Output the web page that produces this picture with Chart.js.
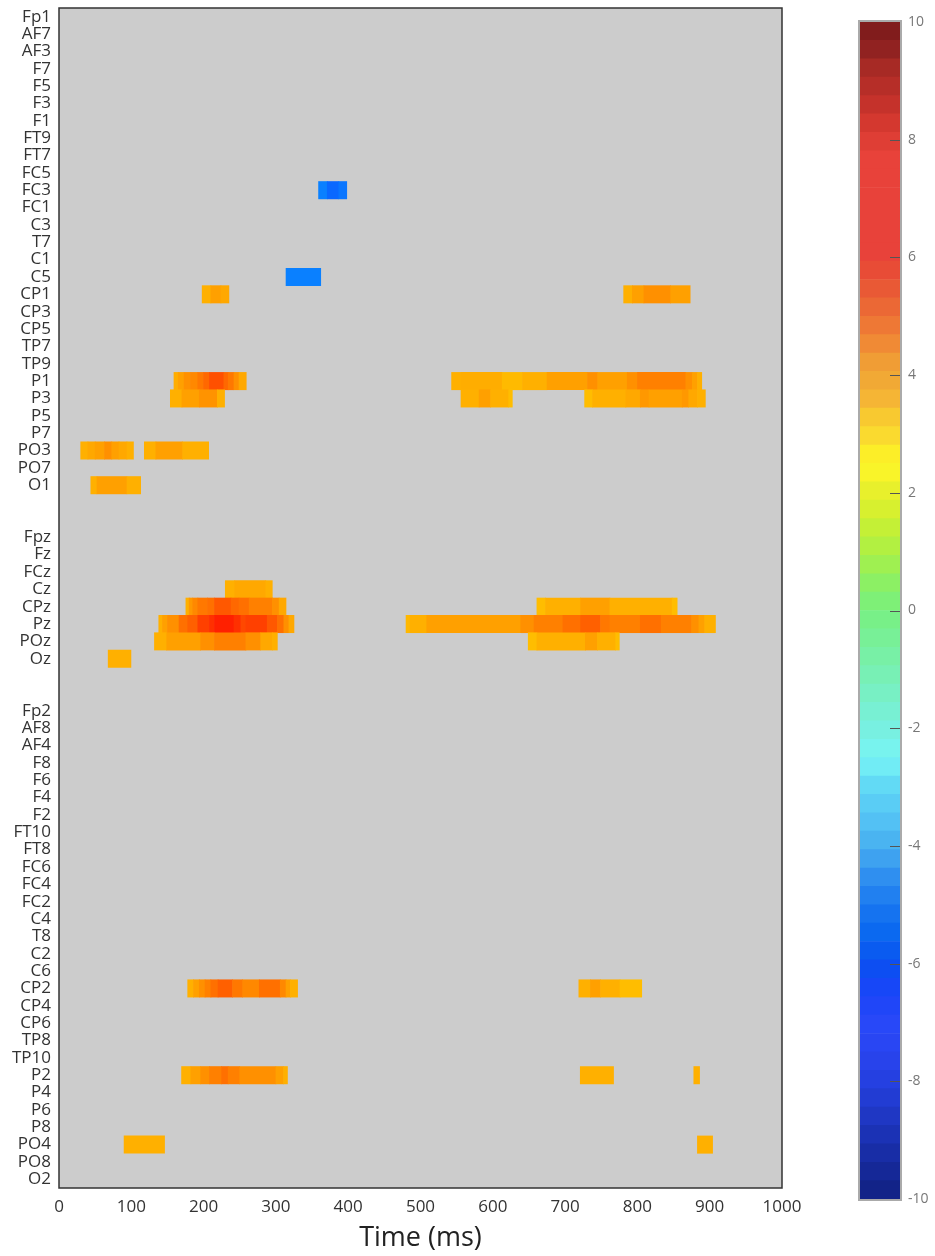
<!DOCTYPE html>
<html>
<head>
<meta charset="utf-8">
<script src="https://cdn.jsdelivr.net/npm/chart.js@4.4.0/dist/chart.umd.min.js"></script>
<style>
  html, body { margin: 0; padding: 0; background: #fff; }
  #wrap { position: relative; width: 935px; height: 1256px; overflow: hidden; }
  #main { position: absolute; left: 0; top: 0; }
  #bar { position: absolute; left: 830px; top: 0; filter: blur(0.6px); }
</style>
</head>
<body>
<div id="wrap">
  <canvas id="main" width="935" height="1256"></canvas>
  <canvas id="bar" width="105" height="1256"></canvas>
</div>
<script>
// Electrode rows, top to bottom (blank rows separate left / midline / right groups)
const leftChannels = ['Fp1','AF7','AF3','F7','F5','F3','F1','FT9','FT7','FC5','FC3','FC1','C3','T7','C1','C5',
  'CP1','CP3','CP5','TP7','TP9','P1','P3','P5','P7','PO3','PO7','O1'];
const midChannels = ['Fpz','Fz','FCz','Cz','CPz','Pz','POz','Oz'];
const rightChannels = ['Fp2','AF8','AF4','F8','F6','F4','F2','FT10','FT8','FC6','FC4','FC2','C4','T8','C2','C6',
  'CP2','CP4','CP6','TP8','TP10','P2','P4','P6','P8','PO4','PO8','O2'];
const rowLabels = [...leftChannels, ' ', '  ', ...midChannels, '   ', '    ', ...rightChannels];

// Time axis ticks (ms)
const timeTicks = [0, 100, 200, 300, 400, 500, 600, 700, 800, 900, 1000];
// Colour scale ticks
const scaleTicks = [10, 8, 6, 4, 2, 0, -2, -4, -6, -8, -10];

// Significant runs: [breakpoints in ms, value of each interval between breakpoints]
const FC3 = [[359, 371, 387, 398], [-5.0, -5.5, -5.2]];
const C5 = [[314, 362], [-5.0]];
const CP1a = [[198, 210, 224, 235], [3.5, 4.0, 3.75]];
const CP1b = [[781, 793, 809, 846, 873], [3.5, 4.0, 4.5, 4.0]];
const P1a = [[159, 165, 173, 182, 192, 200, 208, 228, 234, 242, 249, 259],
  [3.6, 4.0, 4.5, 4.75, 5.25, 5.75, 6.5, 5.75, 5.25, 4.5, 3.75]];
const P1b = [[543, 556, 613, 641, 675, 731, 745, 786, 800, 867, 876, 883, 889],
  [3.5, 3.6, 3.2, 3.5, 4.0, 4.5, 4.0, 4.5, 5.0, 4.5, 4.0, 3.5]];
const P3a = [[154, 170, 194, 219, 229], [3.5, 4.0, 4.4, 3.5]];
const P3b = [[556, 581, 597, 622, 627], [3.5, 4.0, 3.5, 3.1]];
const P3c = [[727, 738, 784, 804, 816, 862, 871, 883, 894], [3.1, 3.5, 3.75, 4.25, 4.0, 4.25, 3.75, 3.5]];
const PO3a = [[30, 40, 50, 63, 73, 83, 94, 103], [3.5, 3.75, 4.0, 4.5, 4.0, 3.75, 3.5]];
const PO3b = [[118, 134, 171, 207], [3.5, 4.0, 3.5]];
const O1 = [[44, 52.5, 94, 113], [3.5, 4.0, 3.5]];
const Cz = [[230, 243, 286, 295], [3.5, 3.75, 3.5]];
const CPza = [[175.5, 180, 185, 192, 205.5, 215, 238, 249, 263, 295, 304.5, 314],
  [3.5, 4.25, 4.75, 5.25, 5.5, 6.25, 5.75, 5.5, 5.0, 4.5, 3.75]];
const CPzb = [[661, 673, 721.5, 762, 848, 855], [3.1, 3.5, 4.0, 3.5, 3.1]];
const Pza = [[138, 143, 150, 166, 178, 192, 208, 215, 242, 251.5, 258.5, 288, 302, 311, 318, 325],
  [3.5, 4.0, 4.5, 5.5, 6.0, 7.0, 7.5, 8.0, 7.5, 6.75, 7.0, 6.25, 5.5, 4.5, 3.75]];
const Pzb = [[480, 485.5, 508.6, 638.6, 657, 697, 721.5, 749, 762, 804, 833, 875, 885, 893, 908],
  [3.25, 3.5, 4.0, 4.5, 5.0, 5.5, 6.0, 5.25, 5.0, 5.5, 5.0, 4.5, 4.0, 3.5]];
const POza = [[132, 149, 196, 215, 258.5, 279, 295, 302], [3.5, 4.0, 4.5, 5.0, 4.5, 3.75, 3.5]];
const POzb = [[649, 661, 728, 744.6, 770, 775], [3.1, 3.5, 4.0, 3.5, 3.1]];
const Oz = [[68, 99.5], [3.5]];
const CP2a = [[178, 186, 194, 202, 210, 220, 240, 254, 277, 306, 314, 320, 330],
  [3.5, 4.0, 4.5, 5.0, 5.5, 6.0, 5.25, 4.75, 5.5, 4.75, 4.0, 3.5]];
const CP2b = [[719, 735, 749, 776, 806], [3.5, 4.0, 3.5, 3.1]];
const P2a = [[169.5, 182.4, 196, 208, 225, 234, 250, 300, 310.6, 316], [3.5, 4.0, 4.5, 5.0, 5.5, 5.0, 4.5, 4.0, 3.5]];
const P2b = [[721, 767], [3.5]];
const P2c = [[878, 886], [3.5]];
const PO4a = [[90, 146], [3.5]];
const PO4b = [[883, 904], [3.5]];

const runs = [
  ['FC3', FC3], ['C5', C5], ['CP1', CP1a], ['CP1', CP1b], ['P1', P1a], ['P1', P1b],
  ['P3', P3a], ['P3', P3b], ['P3', P3c], ['PO3', PO3a], ['PO3', PO3b], ['O1', O1],
  ['Cz', Cz], ['CPz', CPza], ['CPz', CPzb], ['Pz', Pza], ['Pz', Pzb], ['POz', POza], ['POz', POzb], ['Oz', Oz],
  ['CP2', CP2a], ['CP2', CP2b], ['P2', P2a], ['P2', P2b], ['P2', P2c], ['PO4', PO4a], ['PO4', PO4b]
];

// Cell colouring for the map
function cellColor(v) {
  if (v >= 0) {
    const g = Math.round(Math.max(16, Math.min(200, 192 - 32 * (v - 3))));
    return `rgb(255,${g},0)`;
  }
  const g = Math.round(Math.max(0, Math.min(200, 128 + 48 * (v + 5))));
  return `rgb(10,${g},255)`;
}

// Build floating-bar points from the runs
const cells = [];
const cellColors = [];
runs.forEach(([ch, [t, v]]) => {
  for (let i = 0; i < v.length; i++) {
    cells.push({ y: ch, x: [t[i], t[i + 1]] });
    cellColors.push(cellColor(v[i]));
  }
});

const FONT = "'Open Sans', 'DejaVu Sans', sans-serif";

const framePlugin = {
  id: 'frame',
  beforeDatasetsDraw(chart) {
    const { ctx, chartArea: a } = chart;
    ctx.save();
    ctx.fillStyle = '#cccccc';
    ctx.fillRect(a.left, a.top, a.right - a.left, a.bottom - a.top);
    ctx.restore();
  },
  afterDatasetsDraw(chart) {
    const { ctx, chartArea: a } = chart;
    ctx.save();
    ctx.strokeStyle = '#333333';
    ctx.lineWidth = 1.5;
    ctx.strokeRect(a.left, a.top, a.right - a.left, a.bottom - a.top);
    ctx.restore();
  }
};

new Chart(document.getElementById('main'), {
  type: 'bar',
  data: {
    labels: rowLabels,
    datasets: [{
      data: cells,
      backgroundColor: cellColors,
      borderWidth: 0,
      barPercentage: 1,
      categoryPercentage: 1
    }]
  },
  options: {
    indexAxis: 'y',
    responsive: false,
    animation: false,
    events: [],
    layout: { padding: { top: 8, right: 153, left: 0, bottom: 0 } },
    plugins: { legend: { display: false }, tooltip: { enabled: false } },
    scales: {
      y: {
        type: 'category',
        grid: { display: false, drawTicks: false },
        border: { display: false },
        ticks: { autoSkip: false, color: '#333', font: { family: FONT, size: 17 }, padding: 8 },
        afterFit(s) { s.width = 59; s.paddingTop = 0; s.paddingBottom = 0; }
      },
      x: {
        type: 'linear',
        min: 0, max: 1000,
        afterBuildTicks(s) { s.ticks = timeTicks.map(v => ({ value: v })); },
        grid: { display: false, drawTicks: false },
        border: { display: false },
        ticks: { color: '#333', font: { family: FONT, size: 17 }, padding: 9, maxRotation: 0,
          callback: v => String(v) },
        title: { display: true, text: 'Time (ms)', color: '#222', font: { family: FONT, size: 27 }, padding: { top: 0, bottom: 1 } },
        afterFit(s) { s.height = 68; s.paddingLeft = 0; s.paddingRight = 0; }
      }
    }
  },
  plugins: [framePlugin]
});

// ---- Colour bar ----
const barStops = [
  [-10, '#102080'], [-9.5, '#152898'], [-9, '#1a30b0'], [-8.5, '#2038c8'], [-8, '#2540e0'],
  [-7.5, '#2a45f0'], [-7, '#2848f8'], [-6.5, '#1a45f8'], [-6, '#0a50f0'], [-5.5, '#0a68f0'],
  [-5, '#1a78f0'], [-4.5, '#3090f0'], [-4, '#48b0f0'], [-3.5, '#55c5f5'], [-3, '#60d8f5'],
  [-2.5, '#78f5f5'], [-2, '#78f0e0'], [-1.5, '#78f0c8'], [-1, '#78f0b0'], [-0.5, '#78f098'],
  [0, '#78f080'], [0.4, '#88f068'], [0.8, '#a0f050'], [1.2, '#b8f03c'], [1.6, '#d0f030'],
  [2, '#e6f02c'], [2.4, '#fcf528'], [2.7, '#fced28'], [3, '#fad830'], [3.3, '#f8c830'],
  [3.6, '#f5b535'], [4, '#f0a535'], [4.3, '#f09a35'], [4.6, '#f08535'], [5, '#ec7035'],
  [5.3, '#ea6035'], [5.7, '#e85035'], [6, '#e8423a'], [7.7, '#e8423a'], [8.2, '#d83a30'],
  [8.7, '#c0302a'], [9.2, '#a82a25'], [9.6, '#8c2020'], [10, '#7a1a1a']
];
function hexRgb(h) { return [1, 3, 5].map(i => parseInt(h.substr(i, 2), 16)); }
function barColor(v) {
  for (let i = 0; i < barStops.length - 1; i++) {
    const [v0, c0] = barStops[i], [v1, c1] = barStops[i + 1];
    if (v >= v0 && v <= v1) {
      const f = (v - v0) / (v1 - v0);
      const a = hexRgb(c0), b = hexRgb(c1);
      return `rgb(${a.map((x, k) => Math.round(x + (b[k] - x) * f)).join(',')})`;
    }
  }
  return barStops[barStops.length - 1][1];
}
const nBands = 64;
const bandDatasets = [];
for (let i = 0; i < nBands; i++) {
  const lo = -10 + i * 20 / nBands, hi = lo + 20 / nBands;
  bandDatasets.push({
    data: [[lo, hi]],
    backgroundColor: barColor((lo + hi) / 2),
    borderWidth: 0,
    grouped: false,
    barPercentage: 1,
    categoryPercentage: 1
  });
}

const barFrame = {
  id: 'barFrame',
  afterDatasetsDraw(chart) {
    const { ctx, chartArea: a } = chart;
    const ys = chart.scales.y;
    ctx.save();
    ctx.strokeStyle = '#555';
    ctx.lineWidth = 1;
    scaleTicks.forEach(t => {
      if (t === 10 || t === -10) return;
      const y = Math.round(ys.getPixelForValue(t)) + 0.5;
      ctx.beginPath();
      ctx.moveTo(a.right - 10, y);
      ctx.lineTo(a.right, y);
      ctx.stroke();
    });
    ctx.strokeStyle = '#aaaaaa';
    ctx.lineWidth = 2;
    ctx.strokeRect(a.left - 1, a.top - 1, a.right - a.left + 2, a.bottom - a.top + 2);
    ctx.restore();
  }
};

new Chart(document.getElementById('bar'), {
  type: 'bar',
  data: { labels: ['c'], datasets: bandDatasets },
  options: {
    responsive: false,
    animation: false,
    events: [],
    layout: { padding: { top: 22, bottom: 57, left: 30, right: 0 } },
    plugins: { legend: { display: false }, tooltip: { enabled: false } },
    scales: {
      x: { display: false },
      y: {
        position: 'right',
        min: -10, max: 10,
        afterBuildTicks(s) { s.ticks = scaleTicks.map(v => ({ value: v })); },
        grid: { display: false, drawTicks: false },
        border: { display: false },
        ticks: { color: '#777', font: { family: FONT, size: 14 }, padding: 8 },
        afterFit(s) { s.width = 35; s.paddingTop = 0; s.paddingBottom = 0; }
      }
    }
  },
  plugins: [barFrame]
});
</script>
</body>
</html>
